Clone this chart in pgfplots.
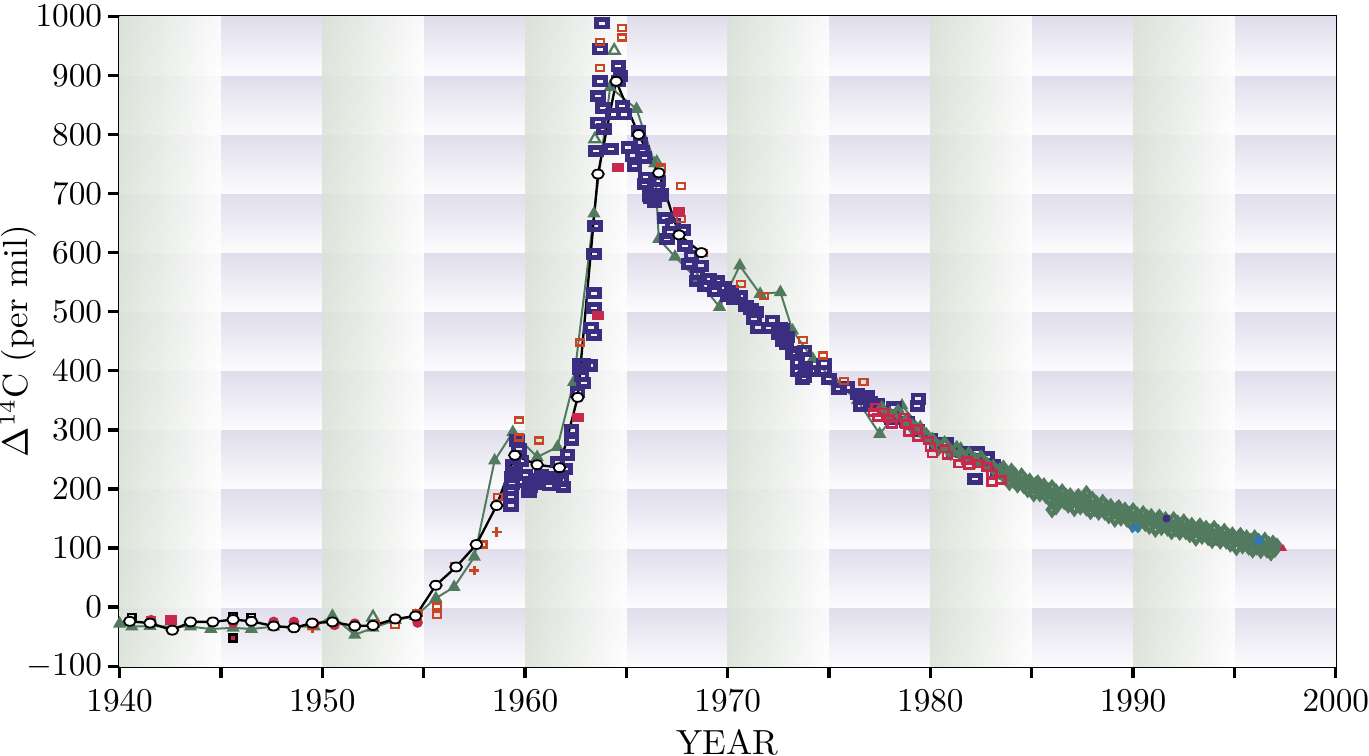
\documentclass[border=0pt]{standalone}
\usepackage{pgfplots}
\pgfplotsset{compat=1.18}
\definecolor{navy}{RGB}{59,46,128}
\definecolor{orng}{RGB}{200,70,35}
\definecolor{crim}{RGB}{200,40,75}
\definecolor{grn}{RGB}{82,122,95}
\definecolor{bgP}{RGB}{223,221,235}
\definecolor{bgW}{RGB}{252,252,254}
\definecolor{bgG}{RGB}{218,226,214}
\definecolor{xblue}{RGB}{40,120,200}
\begin{document}
\begin{tikzpicture}
\path[use as bounding box] (-36pt,-27pt) rectangle (376pt,200.5pt);
\begin{axis}[
  at={(0,0)}, anchor=south west,
  scale only axis, width=366pt, height=195.6pt,
  xmin=1940, xmax=2000, ymin=-100, ymax=1000,
  xtick={1940,1950,...,2000},
  minor xtick={1945,1955,...,1995},
  ytick={-100,0,...,1000},
  tick align=outside, tick pos=left,
  major tick length=3.6pt, minor tick length=3.6pt,
  axis line style={line width=1pt},
  every tick/.style={line width=1pt, black},
  every minor tick/.style={line width=1pt, black},
  tick label style={font=\fontsize{10.4}{12}\selectfont},
  /pgf/number format/1000 sep={},
  yticklabel style={inner xsep=1.5pt},
  xlabel={YEAR},
  ylabel={$\Delta^{14}$C (per mil)},
  xlabel style={at={(axis description cs:0.5,-0.1166)}, anchor=center, font=\fontsize{10.5}{12}\selectfont},
  ylabel style={at={(axis description cs:-0.0835,0.5)}, anchor=center, font=\fontsize{10.5}{12}\selectfont},
  clip=true,
]
\pgfplotsextra{
  \foreach \r in {-100,0,...,900}{
    \pgfmathsetmacro\rt{\r+100}
    \shade[top color=bgP, bottom color=bgW] (axis cs:1940,\r) rectangle (axis cs:2000,\rt);
  }
  \foreach \c in {1940,1950,...,1990}{
    \pgfmathsetmacro\cr{\c+5}
    \shade[left color=bgG, right color=white, opacity=0.85] (axis cs:\c,-100) rectangle (axis cs:\cr,1000);
  }
}
% green line with triangles
\addplot[grn, line width=0.6pt, mark=triangle*, mark size=1.7pt, mark options={fill=grn}] coordinates {
(1940.0,-28) (1940.6,-33) (1941.5,-32) (1942.6,-33) (1943.5,-33) (1944.5,-37) (1945.6,-35)
(1946.5,-37) (1947.6,-33) (1948.6,-33) (1949.6,-33) (1950.5,-15) (1951.6,-47) (1952.5,-35)
(1953.6,-22) (1954.6,-15) (1955.6,15) (1956.5,34) (1957.5,85) (1958.5,248) (1959.4,296)
(1960.6,254) (1961.6,271) (1962.4,381) (1963.4,666) (1964.2,880) (1965.5,843) (1966.4,751)
(1966.6,623) (1967.4,593) (1968.5,555) (1969.6,508) (1970.6,578) (1971.6,530) (1972.6,533)
(1973.2,468) (1974.2,420) (1975.3,382) (1976.4,350) (1977.5,293) (1978.6,341) (1979.5,305)
(1980.5,272) (1981.5,268) (1982.5,245) (1983.5,228)
};
\addplot[only marks, grn, mark=triangle, mark size=1.9pt, mark options={line width=0.7pt, fill=white}] coordinates {
(1963.45,792) (1964.4,942) (1966.5,752) (1952.5,-17)
};
% navy squares
\addplot[only marks, navy, mark=square, mark size=1.1pt, mark options={xscale=1.45, line width=1.45pt, fill=white}] coordinates {
(1959.3,172) (1959.3,186) (1959.3,198) (1959.35,209) (1959.35,220) (1959.5,229) (1959.4,240)
(1959.8,248) (1959.7,268) (1959.6,282) (1959.9,212) (1960.0,223) (1960.2,195) (1960.25,203)
(1960.6,217) (1960.65,209) (1960.8,223) (1961.1,217) (1961.2,206) (1961.5,220) (1961.8,214)
(1961.9,203) (1961.6,245) (1962.0,234) (1962.1,258) (1962.3,283) (1962.3,299) (1962.6,364)
(1962.9,379) (1962.8,392) (1962.7,403) (1962.7,412) (1962.9,412) (1963.2,409) (1963.25,473)
(1963.4,461) (1963.4,506) (1963.4,531) (1963.4,598) (1963.45,645) (1963.5,772) (1963.6,820)
(1963.85,845) (1963.6,865) (1963.7,890) (1963.7,944) (1963.8,988) (1963.9,809) (1964.25,775)
(1964.35,834) (1964.6,916) (1964.7,899) (1964.6,890) (1964.8,848) (1964.9,834) (1965.1,778)
(1965.3,764) (1965.4,747) (1965.6,806) (1965.7,786) (1965.8,772) (1965.9,761) (1965.95,727)
(1965.9,716) (1966.15,696) (1966.2,693) (1966.4,685) (1966.5,710) (1966.6,721) (1966.65,696)
(1966.7,699) (1966.9,659) (1967.0,623) (1967.15,634) (1967.3,648) (1967.8,638) (1967.9,611)
(1968.1,581) (1968.2,595) (1968.45,552) (1968.5,564) (1968.7,578) (1968.85,544) (1969.1,555)
(1969.35,535) (1969.5,552) (1969.85,541) (1970.0,527) (1970.2,535) (1970.3,521) (1970.6,527)
(1970.9,510) (1971.15,505) (1971.3,488) (1971.4,499) (1971.5,473) (1972.0,473) (1972.2,485)
(1972.5,462) (1972.6,473) (1972.7,451) (1972.7,471) (1972.95,457) (1972.9,445) (1973.2,428)
(1973.35,431) (1973.45,414) (1973.45,400) (1973.7,386) (1973.8,389) (1973.8,434) (1973.85,406)
(1974.1,400) (1974.75,412) (1974.75,400) (1975.0,386) (1975.5,369) (1975.9,372) (1976.4,361)
(1976.55,341) (1976.65,353) (1976.9,358) (1977.05,347) (1977.4,344) (1978.2,338) (1978.1,319)
(1978.85,313) (1979.35,299) (1979.35,341) (1979.4,353) (1980.0,285) (1980.3,277) (1980.8,277)
(1981.15,265) (1981.6,262) (1982.3,262) (1982.3,251) (1982.8,254) (1982.2,217) (1983.1,240)
(1983.3,231)
};
% green diamonds
\addplot[only marks, grn, mark=diamond, mark size=1.6pt, mark options={line width=1.3pt, fill=white}] coordinates {
(1977.6,335) (1978.0,325) (1978.4,330) (1978.8,315) (1979.1,305) (1979.5,300) (1979.8,290)
(1980.1,282) (1980.4,270) (1980.7,276) (1981.0,262) (1981.3,268) (1981.6,255) (1981.9,258)
(1982.2,248) (1982.5,252) (1982.8,240) (1983.1,236) (1983.4,230)
(1983.6,235) (1983.7,219) (1983.8,226) (1983.9,211) (1984.0,230) (1984.1,215) (1984.2,222)
(1984.3,207) (1984.4,213) (1984.5,222) (1984.6,206) (1984.7,213) (1984.8,199) (1984.9,213)
(1985.0,203) (1985.1,192) (1985.2,207) (1985.3,210) (1985.4,192) (1985.5,200) (1985.6,205)
(1985.7,189) (1985.8,197) (1985.9,182) (1986.0,165) (1986.0,202) (1986.1,187) (1986.2,170)
(1986.2,195) (1986.3,179) (1986.4,186) (1986.5,195) (1986.6,179) (1986.7,187) (1986.8,173)
(1986.9,188) (1987.0,178) (1987.1,167) (1987.2,183) (1987.3,187) (1987.4,170) (1987.5,178)
(1987.6,183) (1987.7,168) (1987.7,192) (1987.8,176) (1987.9,162) (1988.0,182) (1988.1,167)
(1988.2,175) (1988.3,161) (1988.4,168) (1988.5,177) (1988.6,161) (1988.7,169) (1988.8,155)
(1988.9,170) (1989.0,160) (1989.1,149) (1989.2,165) (1989.3,168) (1989.4,151) (1989.5,159)
(1989.6,164) (1989.7,149) (1989.8,157) (1989.9,143) (1990.0,163) (1990.1,148) (1990.2,156)
(1990.3,142) (1990.4,149) (1990.5,158) (1990.6,142) (1990.7,151) (1990.8,137) (1990.9,153)
(1991.0,143) (1991.1,132) (1991.2,148) (1991.3,152) (1991.4,135) (1991.5,143) (1991.6,148)
(1991.7,134) (1991.8,142) (1991.9,128) (1992.0,148) (1992.1,133) (1992.2,142) (1992.3,127)
(1992.4,135) (1992.5,144) (1992.6,128) (1992.7,136) (1992.8,123) (1992.9,138) (1993.0,128)
(1993.1,117) (1993.2,133) (1993.3,137) (1993.4,120) (1993.5,128) (1993.6,133) (1993.7,118)
(1993.8,127) (1993.9,113) (1994.0,133) (1994.1,118) (1994.2,126) (1994.3,112) (1994.4,119)
(1994.5,128) (1994.6,112) (1994.7,120) (1994.8,107) (1994.9,122) (1995.0,112) (1995.1,101)
(1995.2,117) (1995.3,121) (1995.4,104) (1995.5,112) (1995.6,117) (1995.7,102) (1995.8,111)
(1995.9,97) (1996.0,117) (1996.1,102) (1996.2,111) (1996.3,96) (1996.4,103) (1996.5,113)
(1996.6,97) (1996.7,106) (1996.8,92) (1996.9,108) (1997.0,98) (1997.1,103)
};
% crimson open squares
\addplot[only marks, crim, mark=square, mark size=1.0pt, mark options={xscale=1.35, line width=0.8pt, fill=white}] coordinates {
(1977.3,338) (1977.4,321) (1977.2,330) (1977.7,330) (1977.95,319) (1978.1,310) (1978.7,321)
(1978.8,310) (1978.95,296) (1979.35,302) (1979.4,288) (1979.9,282) (1980.0,271) (1980.1,260)
(1980.7,268) (1980.85,257) (1981.4,243) (1981.8,248) (1981.9,240) (1982.4,243) (1982.8,237)
(1983.05,226) (1983.05,212) (1983.5,215)
};
% orange open squares
\addplot[only marks, orng, mark=square, mark size=0.9pt, mark options={xscale=1.35, line width=0.65pt, fill=white}] coordinates {
(1941.55,-22) (1952.6,-28) (1953.6,-30) (1954.7,-10) (1955.65,1) (1955.65,-13) (1956.55,69)
(1957.9,106) (1958.65,186) (1959.7,316) (1959.7,287) (1960.7,282) (1962.7,448) (1963.7,913)
(1963.7,957) (1964.8,964) (1964.8,980) (1966.7,744) (1967.7,713) (1967.7,657) (1968.8,600)
(1970.65,547) (1971.8,527) (1973.7,452) (1974.7,426) (1975.75,383) (1976.7,381)
};
% crimson filled squares
\addplot[only marks, crim, mark=square*, mark size=1.2pt, mark options={xscale=1.3, fill=crim}] coordinates {
(1942.55,-22) (1962.6,321) (1963.6,493) (1964.6,744) (1967.6,669)
};
% crimson filled circles
\addplot[only marks, crim, mark=*, mark size=1.4pt, mark options={fill=crim}] coordinates {
(1941.55,-22) (1945.6,-26) (1947.6,-25) (1948.6,-25) (1949.6,-28) (1950.6,-30) (1951.6,-28) (1954.7,-26)
};
% red plus
\addplot[only marks, orng, mark=+, mark size=1.5pt, mark options={line width=0.8pt}] coordinates {
(1949.5,-36) (1957.5,62) (1958.6,127)
};
% black open squares
\addplot[only marks, black, mark=square, mark size=1.1pt, mark options={line width=0.8pt, fill=white}] coordinates {
(1940.6,-18) (1945.6,-16) (1946.5,-18)
};
\addplot[only marks, black, mark=square*, mark size=1.1pt, mark options={line width=0.8pt, fill=crim}] coordinates {
(1945.6,-52)
};
% blue x and tiny marks
\addplot[only marks, xblue, mark=x, mark size=1.6pt, mark options={line width=0.8pt}] coordinates {
(1990.1,133) (1996.2,113)
};
\addplot[only marks, crim, mark=triangle*, mark size=1.0pt] coordinates {(1997.4,99)};
\addplot[only marks, navy, mark=*, mark size=1.0pt] coordinates {(1991.65,150)};
% black line with white ellipses
\addplot[black, line width=0.7pt, mark=*, mark size=1.35pt, mark options={xscale=1.3, fill=white, line width=0.55pt}] coordinates {
(1940.5,-24) (1941.5,-27) (1942.6,-39) (1943.5,-25) (1944.6,-25) (1945.6,-21) (1946.5,-24)
(1947.6,-32) (1948.6,-35) (1949.5,-27) (1950.5,-25) (1951.6,-32) (1952.5,-31) (1953.6,-20)
(1954.6,-15) (1955.6,37) (1956.6,68) (1957.6,106) (1958.6,172) (1959.5,257) (1960.6,241)
(1961.7,236) (1962.6,355) (1963.6,733) (1964.5,890) (1965.6,800) (1966.6,735) (1967.6,630)
(1968.7,600)
};
\end{axis}
\end{tikzpicture}
\end{document}
